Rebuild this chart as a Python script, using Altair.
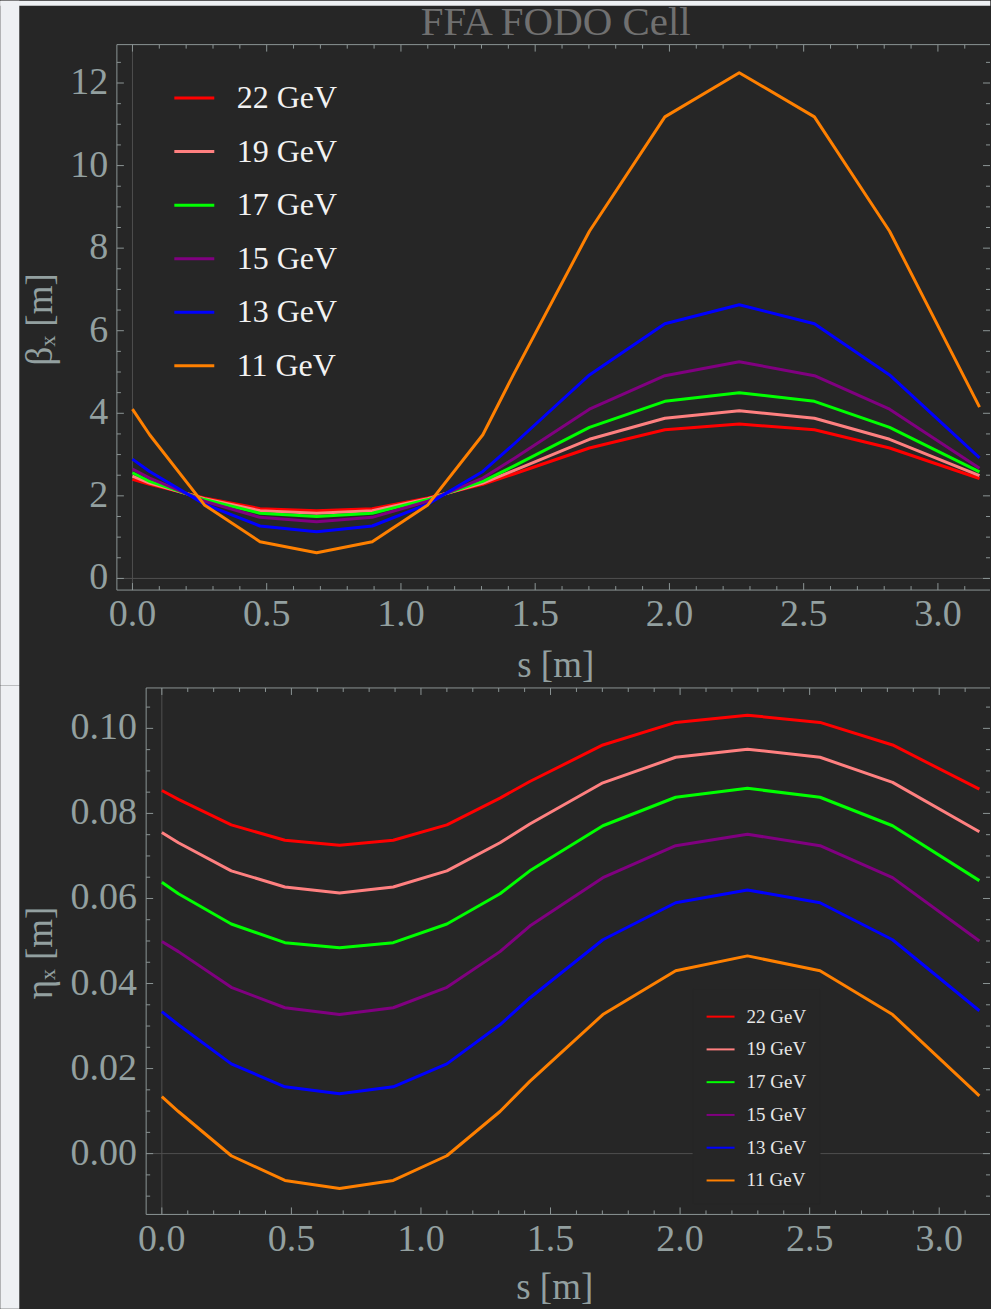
import altair as alt
import pandas as pd

# ---------------- data ----------------
S = [0.0, 0.064, 0.268, 0.475, 0.686, 0.893, 1.10, 1.305, 1.42, 1.702, 1.983, 2.26, 2.54, 2.82, 3.155]
ENERGIES = ["22 GeV", "19 GeV", "17 GeV", "15 GeV", "13 GeV", "11 GeV"]
COLORS = ["#ff0000", "#ff8080", "#00ff00", "#800080", "#0000ff", "#ff8000"]

BETA_22 = [2.40, 2.28, 1.95, 1.69, 1.64, 1.69, 1.95, 2.28, 2.53, 3.16, 3.60, 3.74, 3.60, 3.16, 2.42]
BETA_19 = [2.48, 2.31, 1.93, 1.64, 1.58, 1.64, 1.93, 2.31, 2.61, 3.37, 3.88, 4.06, 3.88, 3.37, 2.49]
BETA_17 = [2.56, 2.35, 1.91, 1.58, 1.50, 1.58, 1.91, 2.35, 2.72, 3.66, 4.29, 4.50, 4.29, 3.66, 2.58]
BETA_15 = [2.65, 2.43, 1.87, 1.48, 1.37, 1.48, 1.87, 2.43, 2.90, 4.10, 4.91, 5.25, 4.91, 4.10, 2.67]
BETA_13 = [2.89, 2.59, 1.80, 1.27, 1.13, 1.27, 1.80, 2.59, 3.25, 4.93, 6.17, 6.63, 6.17, 4.93, 2.92]
BETA_11 = [4.10, 3.48, 1.78, 0.89, 0.62, 0.89, 1.78, 3.48, 4.95, 8.41, 11.18, 12.25, 11.18, 8.41, 4.15]

ETA_22 = [0.0854, 0.0833, 0.0773, 0.0737, 0.0725, 0.0737, 0.0773, 0.0836, 0.0875, 0.0961, 0.1014, 0.1031, 0.1014, 0.0961, 0.0857]
ETA_19 = [0.0755, 0.0731, 0.0665, 0.0627, 0.0613, 0.0627, 0.0665, 0.0731, 0.0775, 0.0872, 0.0932, 0.0951, 0.0932, 0.0873, 0.0757]
ETA_17 = [0.0638, 0.0611, 0.0540, 0.0496, 0.0484, 0.0496, 0.0540, 0.0611, 0.0665, 0.0771, 0.0838, 0.0859, 0.0838, 0.0771, 0.0642]
ETA_15 = [0.0499, 0.0475, 0.0391, 0.0343, 0.0327, 0.0343, 0.0391, 0.0475, 0.0535, 0.0649, 0.0724, 0.0751, 0.0724, 0.0649, 0.0500]
ETA_13 = [0.0334, 0.0303, 0.0211, 0.0157, 0.0141, 0.0157, 0.0211, 0.0303, 0.0366, 0.0503, 0.0590, 0.0620, 0.0590, 0.0503, 0.0336]
ETA_11 = [0.0134, 0.0099, -0.0005, -0.0063, -0.0082, -0.0063, -0.0005, 0.0099, 0.0170, 0.0327, 0.0430, 0.0465, 0.0430, 0.0327, 0.0136]

X_MAJOR = [0.0, 0.5, 1.0, 1.5, 2.0, 2.5, 3.0]
X_LABELS = ["0.0", "0.5", "1.0", "1.5", "2.0", "2.5", "3.0"]
X_MINOR = [0.1, 0.2, 0.3, 0.4, 0.6, 0.7, 0.8, 0.9, 1.1, 1.2, 1.3, 1.4, 1.6, 1.7, 1.8, 1.9,
           2.1, 2.2, 2.3, 2.4, 2.6, 2.7, 2.8, 2.9, 3.1]
BETA_MAJOR = [0, 2, 4, 6, 8, 10, 12]
BETA_LABELS = ["0", "2", "4", "6", "8", "10", "12"]
BETA_MINOR = [0.5, 1.0, 1.5, 2.5, 3.0, 3.5, 4.5, 5.0, 5.5, 6.5, 7.0, 7.5, 8.5, 9.0, 9.5,
              10.5, 11.0, 11.5, 12.5]
ETA_MAJOR = [0.0, 0.02, 0.04, 0.06, 0.08, 0.10]
ETA_LABELS = ["0.00", "0.02", "0.04", "0.06", "0.08", "0.10"]
ETA_MINOR = [-0.01, -0.005, 0.005, 0.01, 0.015, 0.025, 0.03, 0.035, 0.045, 0.05, 0.055,
             0.065, 0.07, 0.075, 0.085, 0.09, 0.095, 0.105]

TITLE = "FFA FODO Cell"
X_TITLE = "s [m]"
BETA_TITLE = "βₓ [m]"
ETA_TITLE = "ηₓ [m]"

BETA = [BETA_22, BETA_19, BETA_17, BETA_15, BETA_13, BETA_11]
ETA = [ETA_22, ETA_19, ETA_17, ETA_15, ETA_13, ETA_11]

rows_b, rows_e = [], []
for e, bl, el in zip(ENERGIES, BETA, ETA):
    for s, b, h in zip(S, bl, el):
        rows_b.append({"s": s, "val": b, "energy": e})
        rows_e.append({"s": s, "val": h, "energy": e})
df_beta = pd.DataFrame(rows_b)
df_eta = pd.DataFrame(rows_e)

# ---------------- style ----------------
FONT = "Liberation Serif"
BG = "#262626"
PAGE = "#eef0f3"
FRAME = "#8c9595"
TXT = "#93a0a0"
ZERO = "#4f4f4f"
ONE = pd.DataFrame({"k": [0]})


def sc(dom):
    return alt.Scale(domain=dom, nice=False, zero=False)


def strip(x1, x2, y1, y2):
    return alt.Chart(ONE).mark_rect(color=PAGE).encode(
        x=alt.value(x1), x2=alt.value(x2), y=alt.value(y1), y2=alt.value(y2))


def txt(text, x, y, size, color, angle=0, align="center", baseline="alphabetic"):
    return alt.Chart(pd.DataFrame({"t": [text]})).mark_text(
        font=FONT, fontSize=size, color=color, align=align, baseline=baseline, angle=angle
    ).encode(text="t:N", x=alt.value(x), y=alt.value(y))


def panel(df, xdom, ydom, W, H, ymaj, ylab, ymin, ytitle, geo, legend, strips, title=None):
    fx = geo["fx"]  # x position (px) of the left frame line inside the layer
    X = lambda f: alt.X(f, scale=sc(xdom), axis=None)
    Y = lambda f: alt.Y(f, scale=sc(ydom), axis=None)
    layers = []
    # zero axes
    layers.append(alt.Chart(pd.DataFrame({"v": [0.0]})).mark_rule(color=ZERO, strokeWidth=1).encode(
        x=X("v:Q"), y=alt.value(0), y2=alt.value(H)))
    layers.append(alt.Chart(pd.DataFrame({"v": [0.0]})).mark_rule(color=ZERO, strokeWidth=1).encode(
        y=Y("v:Q"), x=alt.value(fx), x2=alt.value(W)))
    # frame lines
    for (a, b, c, d) in [(fx, W, 0, 0), (fx, W, H, H), (fx, fx, 0, H)]:
        layers.append(alt.Chart(ONE).mark_rule(color=FRAME, strokeWidth=1).encode(
            x=alt.value(a), x2=alt.value(b), y=alt.value(c), y2=alt.value(d)))
    # ticks (inward)
    for vals, ln in [(X_MAJOR, 7), (X_MINOR, 4)]:
        d = pd.DataFrame({"v": vals})
        layers.append(alt.Chart(d).mark_rule(color=FRAME, strokeWidth=1).encode(
            x=X("v:Q"), y=alt.value(H), y2=alt.value(H - ln)))
        layers.append(alt.Chart(d).mark_rule(color=FRAME, strokeWidth=1).encode(
            x=X("v:Q"), y=alt.value(0), y2=alt.value(ln)))
    for vals, ln in [(ymaj, 7), (ymin, 4)]:
        d = pd.DataFrame({"v": vals})
        layers.append(alt.Chart(d).mark_rule(color=FRAME, strokeWidth=1).encode(
            y=Y("v:Q"), x=alt.value(fx), x2=alt.value(fx + ln)))
        layers.append(alt.Chart(d).mark_rule(color=FRAME, strokeWidth=1).encode(
            y=Y("v:Q"), x=alt.value(W), x2=alt.value(W - ln)))
    # tick labels
    layers.append(alt.Chart(pd.DataFrame({"v": X_MAJOR, "lab": X_LABELS})).mark_text(
        font=FONT, fontSize=38, color=TXT, align="center", baseline="alphabetic").encode(
        x=X("v:Q"), y=alt.value(H + geo["xlb"]), text="lab:N"))
    layers.append(alt.Chart(pd.DataFrame({"v": ymaj, "lab": ylab})).mark_text(
        font=FONT, fontSize=38, color=TXT, align="right", baseline="middle").encode(
        y=Y("v:Q"), x=alt.value(fx - geo["ylp"]), text="lab:N"))
    # axis titles
    layers.append(txt(X_TITLE, geo["xtx"], H + geo["xty"], 37, TXT))
    layers.append(txt(ytitle, geo["ytx"], geo["yty"], 37, TXT, angle=270))

    layers.append(
        alt.Chart(df).mark_line(strokeWidth=3, strokeJoin="round").encode(
            x=X("s:Q"), y=Y("val:Q"),
            color=alt.Color("energy:N", scale=alt.Scale(domain=ENERGIES, range=COLORS),
                            legend=legend, sort=ENERGIES),
        )
    )
    if title is not None:
        layers.append(txt(TITLE, title[0], title[1], 41, "#707070"))
    layers.extend(strips)
    return alt.layer(*layers).properties(width=W, height=H)


OX = 116.7      # page x of the plot range start (both panels)
OY1 = 44.0      # page y of the top panel frame
OY2 = 687.7     # page y of the bottom panel frame
FX2 = 146.0 - OX

top_legend = alt.Legend(
    title=None, orient="none", legendX=56, legendY=32, symbolType="stroke",
    symbolSize=1600, symbolStrokeWidth=3, labelFont=FONT, labelFontSize=32,
    labelColor="#f2f2f2", rowPadding=15.6, labelOffset=21, padding=0,
)
top = panel(
    df_beta, [-0.058, 3.194], [-0.282, 12.93], 874, 546,
    BETA_MAJOR, BETA_LABELS, BETA_MINOR, BETA_TITLE,
    {"fx": 0, "xlb": 626 - 590, "ylp": 8.7, "xtx": 556 - OX, "xty": 677 - 590,
     "ytx": 52 - OX, "yty": 319 - OY1},
    top_legend,
    [strip(-OX, 19 - OX, -OY1, 685 - OY1), strip(-OX, 991 - OX, -OY1, 5 - OY1)],
    title=(556 - OX, 34 - OY1),
)

bot_legend = alt.Legend(
    title=None, orient="none", legendX=547 + FX2, legendY=301, symbolType="stroke",
    symbolSize=784, symbolStrokeWidth=2, labelFont=FONT, labelFontSize=19,
    labelColor="#e6e6e6", rowPadding=7.8, labelOffset=11, padding=13,
    fillColor=BG, strokeColor=BG,
)
bottom = panel(
    df_eta, [-0.1735, 3.196], [-0.0143, 0.1095], 874, 527,
    ETA_MAJOR, ETA_LABELS, ETA_MINOR, ETA_TITLE,
    {"fx": FX2, "xlb": 1252 - 1215, "ylp": 9.3, "xtx": 555 - OX, "xty": 1300 - 1215,
     "ytx": 52 - OX, "yty": 953 - OY2},
    bot_legend,
    [strip(-OX, 19 - OX, 685 - OY2, 1309 - OY2)],
)

chart = alt.vconcat(top, bottom, spacing=0).resolve_scale(
    color="independent", x="independent", y="independent"
).properties(
    background=BG,
    padding={"left": 0, "top": 0, "right": 0, "bottom": 0},
).configure(font=FONT).configure_legend(labelFont=FONT).configure_view(stroke=None)

chart.save("out.html", embed_options={"renderer": "svg", "actions": False})
